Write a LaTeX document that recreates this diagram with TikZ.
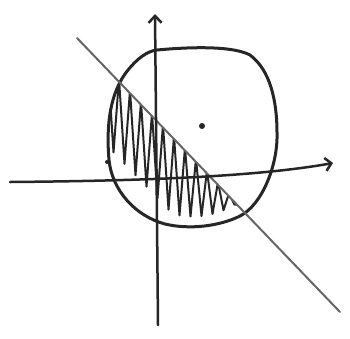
\documentclass[tikz,border=0pt]{standalone}
\usetikzlibrary{arrows.meta}
\tikzset{
  ink/.style={draw=black!85, line width=3pt, line cap=round, line join=round},
  axisline/.style={draw=black!85, line width=2.5pt, line cap=round},
  diag/.style={draw=black!60, line width=2pt, line cap=round},
  hatch/.style={draw=black!85, line width=2pt, line cap=round, line join=round},
}
\def\blob{(157,50) .. controls (200,46) and (235,47) .. (250,55) .. controls (270,70) and (277,100) .. (277,133) .. controls (278,165) and (262,205) .. (240,216) .. controls (220,226) and (190,230) .. (165,224) .. controls (135,216) and (112,190) .. (109,160) .. controls (106,125) and (110,92) .. (128,70) .. controls (137,59) and (147,51) .. (157,50) -- cycle}
\begin{document}
\begin{tikzpicture}[x=1pt,y=-1pt]
\useasboundingbox (0,0) rectangle (350,338);
\fill[white] (0,0) rectangle (350,338);
% hatching
\begin{scope}
  \clip \blob;
  \clip (77,38) -- (340,312) -- (0,340) -- (0,38) -- cycle;
  \foreach \i in {0,...,12} {
    \pgfmathsetmacro\xa{108+11*\i}
    \pgfmathsetmacro\xb{\xa+5.5}
    \pgfmathsetmacro\xc{\xa+11}
    \pgfmathsetmacro\ya{38+(\xa-77)*1.042-3}
    \pgfmathsetmacro\yc{38+(\xc-77)*1.042-3}
    \pgfmathsetmacro\yb{min(138.5+90*sqrt(max(0,1-((\xb-192.5)/84.5)^2))-12, \ya+85)}
    \draw[hatch] (\xa,\ya) -- (\xb,\yb) -- (\xc,\yc);
  }
\end{scope}
% circle
\draw[ink] \blob;
% diagonal line
\coordinate (d1) at (77,38);
\coordinate (d2) at (340,312);
\draw[diag] (d1) -- (d2);
% axes
\coordinate (yb) at (158,325);
\coordinate (yt) at (155,14);
\draw[axisline, -{Straight Barb[length=7pt,width=13pt]}] (yb) -- (yt);
\coordinate (xl) at (10,182);
\coordinate (xr) at (333,163);
\draw[axisline, -{Straight Barb[length=6pt,width=13pt]}] (xl) .. controls (120,181) and (250,178) .. (xr);
% dots
\fill[black!85] (202,126) circle (3pt);
\fill[black!85] (107,162) circle (2pt);
\end{tikzpicture}
\end{document}
